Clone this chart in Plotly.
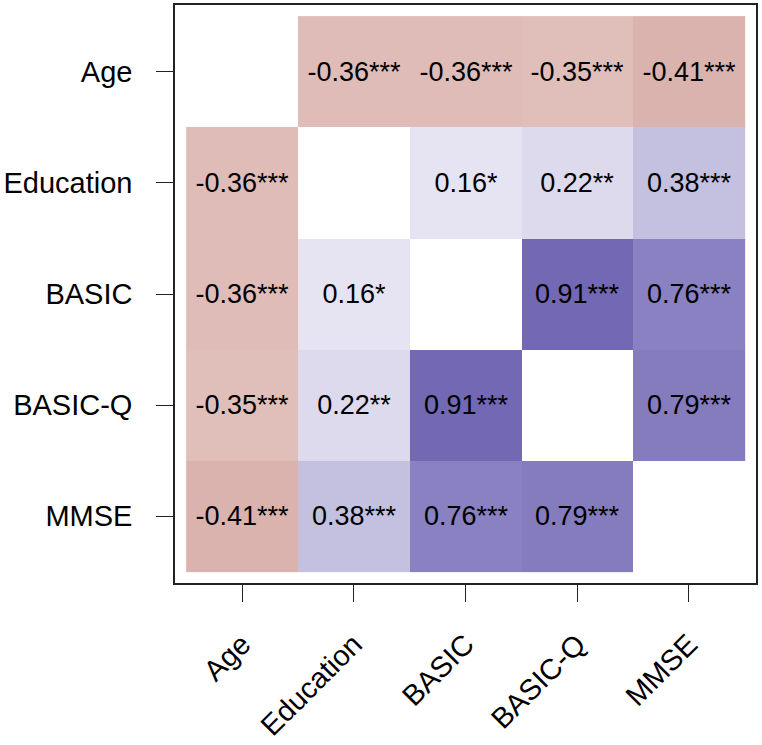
import plotly.graph_objects as go

labels = ["Age", "Education", "BASIC", "BASIC-Q", "MMSE"]
corr = [
    [None, -0.36, -0.36, -0.35, -0.41],
    [-0.36, None, 0.16, 0.22, 0.38],
    [-0.36, 0.16, None, 0.91, 0.76],
    [-0.35, 0.22, 0.91, None, 0.79],
    [-0.41, 0.38, 0.76, 0.79, None],
]
stars = [
    ["", "***", "***", "***", "***"],
    ["***", "", "*", "**", "***"],
    ["***", "*", "", "***", "***"],
    ["***", "**", "***", "", "***"],
    ["***", "***", "***", "***", ""],
]

text = [["" if v is None else f"{v:.2f}{s}" for v, s in zip(rv, rs)] for rv, rs in zip(corr, stars)]

colorscale = [[0.0, "rgb(165,70,57)"], [0.5, "rgb(255,255,255)"], [1.0, "rgb(100,89,173)"]]

idx = list(range(len(labels)))
fig = go.Figure(go.Heatmap(
    z=corr, x=idx, y=idx, text=text, texttemplate="%{text}",
    textfont=dict(family="Liberation Sans, Arial", size=27, color="black"),
    colorscale=colorscale, zmin=-1, zmax=1, showscale=False, xgap=0, ygap=0,
    hoverongaps=False,
))

axis_common = dict(
    showline=True, mirror=True, linecolor="#222", linewidth=1.5,
    ticks="outside", ticklen=17, tickwidth=1.2, tickcolor="#222",
    showgrid=False, zeroline=False,
    tickfont=dict(family="Liberation Sans, Arial", size=29, color="black"),
    tickmode="array", tickvals=idx, ticktext=labels,
)
fig.update_layout(
    width=762, height=745,
    margin=dict(l=173, r=6, t=3, b=159),
    plot_bgcolor="white", paper_bgcolor="white",
    xaxis=dict(range=[-0.6, 4.6], tickangle=-45, ticklabelstandoff=14, **axis_common),
    yaxis=dict(range=[4.6, -0.6], ticklabelstandoff=18, **axis_common),
)
fig.write_html("out.html")
